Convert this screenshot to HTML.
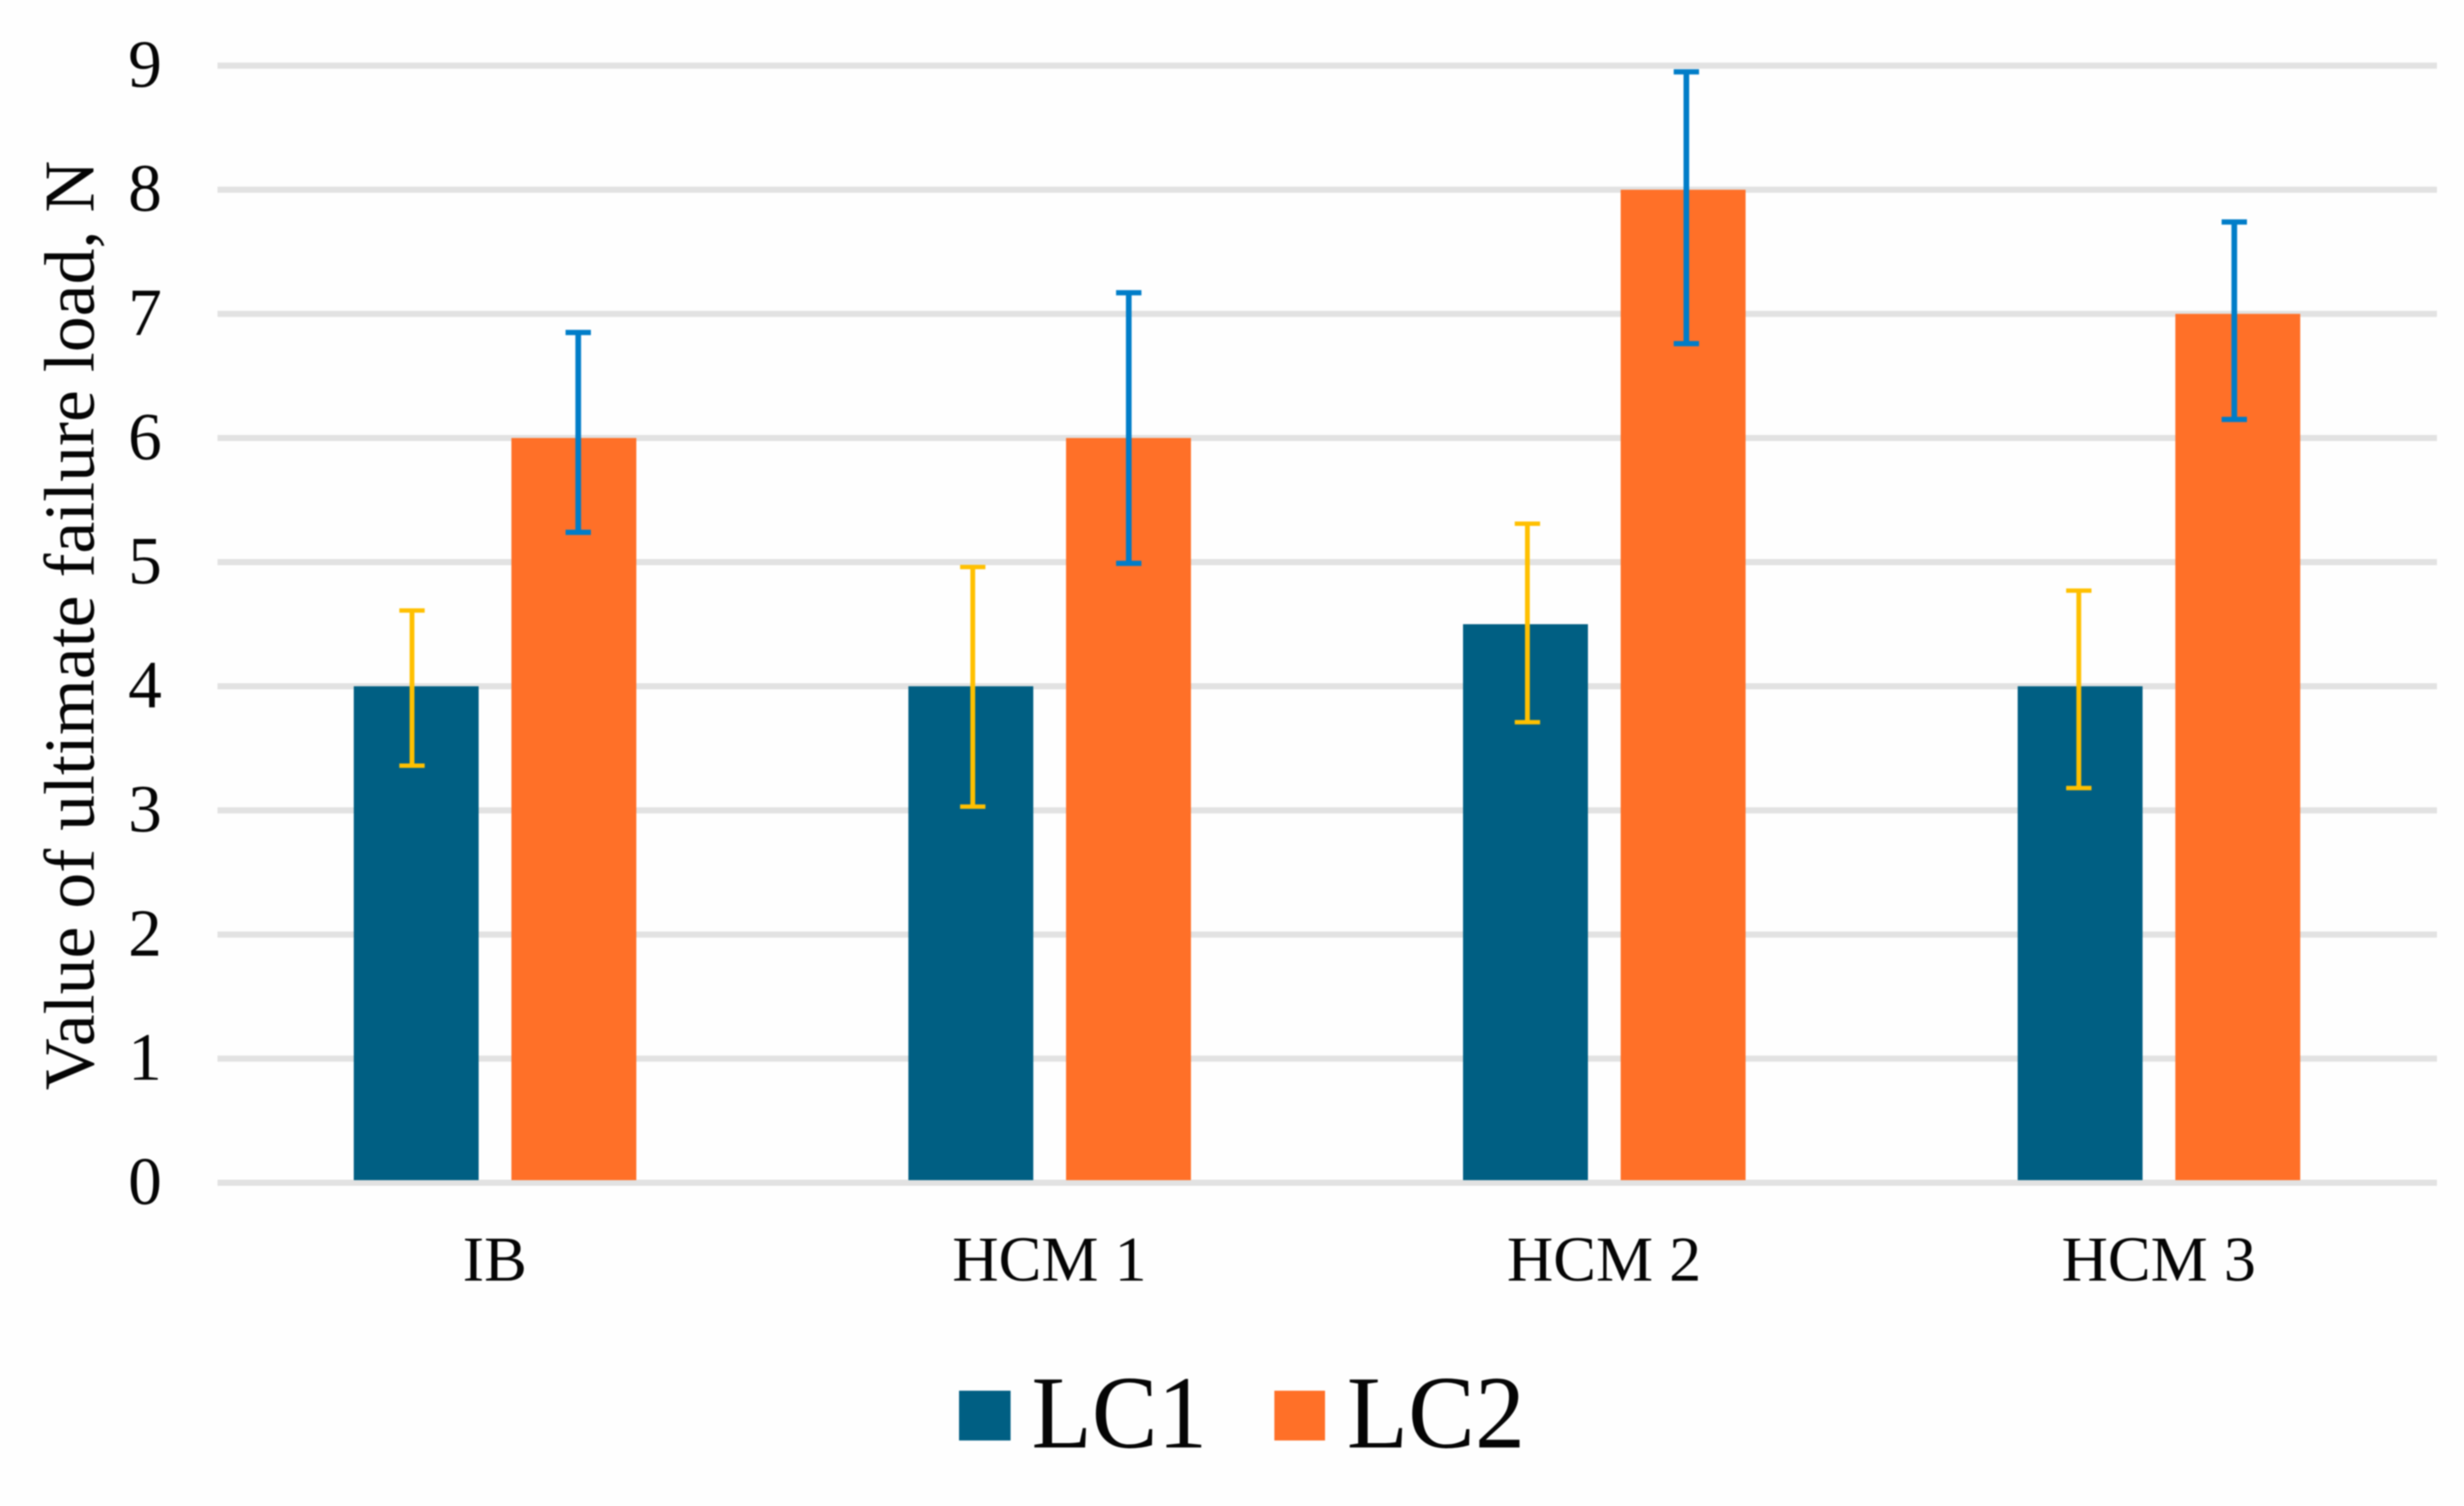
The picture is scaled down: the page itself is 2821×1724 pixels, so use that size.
<!DOCTYPE html>
<html lang="en">
<head>
<meta charset="utf-8">
<title>Value of ultimate failure load</title>
<style>
  html, body { margin: 0; padding: 0; background: #fefefe; width: 2821px; height: 1724px; overflow: hidden; }
  svg { display: block; filter: blur(0.9px); }
  text { font-family: "Liberation Serif", serif; fill: #050505; }
</style>
</head>
<body>
<svg id="chart" xmlns="http://www.w3.org/2000/svg" width="2821" height="1724" viewBox="0 0 2821 1724">
  <rect x="0" y="0" width="2821" height="1724" fill="#fefefe"></rect>
  <g id="grid"></g>
  <g id="yticks"></g>
  <g id="xticks"></g>
  <g id="bars"></g>
  <g id="errors"></g>
  <text transform="translate(107 1248) rotate(-90)" font-size="81.4" textLength="1064" lengthAdjust="spacingAndGlyphs">Value of ultimate failure load, N</text>
  <g>
    <g>
      <rect x="1098" y="1592" width="59" height="57" fill="#005f83"></rect>
      <text x="1181" y="1657" font-size="119" textLength="201" lengthAdjust="spacingAndGlyphs">LC1</text>
    </g>
    <g>
      <rect x="1459" y="1592" width="58" height="57" fill="#ff7028"></rect>
      <text x="1542" y="1657" font-size="119" textLength="204" lengthAdjust="spacingAndGlyphs">LC2</text>
    </g>
  </g>
</svg>
<script>
const categories = ["IB", "HCM 1", "HCM 2", "HCM 3"];
const yTickLabels = ["0", "1", "2", "3", "4", "5", "6", "7", "8", "9"];
const lc1Values = [4, 4, 4.5, 4];
const lc2Values = [6, 6, 8, 7];
const lc1ErrorHigh = [4.61, 4.96, 5.31, 4.77];
const lc1ErrorLow = [3.36, 3.03, 3.71, 3.18];
const lc2ErrorHigh = [6.85, 7.17, 8.95, 7.74];
const lc2ErrorLow = [5.24, 4.99, 6.76, 6.15];

const NS = "http://www.w3.org/2000/svg";
function node(tag, parentId) {
  const el = document.createElementNS(NS, tag);
  document.getElementById(parentId).appendChild(el);
  return el;
}
function yScale(v) {
  return 1354 - 142.1 * v;
}
function bandStart(i) {
  return 250 + 635 * i;
}
function barLeft(i, s) {
  return bandStart(i) + (s === 0 ? 155 : 335.5);
}
const BAR_W = 143;

yTickLabels.forEach(function (label) {
  const v = Number(label);
  const line = node("rect", "grid");
  
  
  line.setAttribute("x", 249);
  line.setAttribute("y", yScale(v) - 3.5);
  line.setAttribute("width", 2541);
  line.setAttribute("height", 7);
  line.setAttribute("fill", "#e2e2e2");

  const t = node("text", "yticks");
  
  
  t.setAttribute("x", 166);
  t.setAttribute("y", yScale(v) + 24);
  t.setAttribute("font-size", 77);
  t.setAttribute("text-anchor", "middle");
  t.textContent = label;
});

categories.forEach(function (name, i) {
  const t = node("text", "xticks");
  
  
  t.setAttribute("x", bandStart(i) + 316.5);
  t.setAttribute("y", 1466);
  t.setAttribute("font-size", 73.5);
  t.setAttribute("text-anchor", "middle");
  t.textContent = name;
});

function drawSeries(key, s, values, high, low, fill, stroke, thick, nudges) {
  values.forEach(function (v, i) {
    const top = yScale(v);
    const bar = node("rect", "bars");
    
    
    bar.setAttribute("x", barLeft(i, s));
    bar.setAttribute("y", top);
    bar.setAttribute("width", BAR_W);
    bar.setAttribute("height", yScale(0) - 3 - top);
    bar.setAttribute("fill", fill);

    const cx = barLeft(i, s) + BAR_W / 2 + nudges[i];
    const yHi = yScale(high[i]);
    const yLo = yScale(low[i]);

    const stem = node("line", "errors");
    
    
    stem.setAttribute("x1", cx);
    stem.setAttribute("x2", cx);
    stem.setAttribute("y1", yHi);
    stem.setAttribute("y2", yLo);
    stem.setAttribute("stroke", stroke);
    stem.setAttribute("stroke-width", thick);

    const capTop = node("line", "errors");
    
    
    capTop.setAttribute("x1", cx - 14.5);
    capTop.setAttribute("x2", cx + 14.5);
    capTop.setAttribute("y1", yHi);
    capTop.setAttribute("y2", yHi);
    capTop.setAttribute("stroke", stroke);
    capTop.setAttribute("stroke-width", thick - 0.5);

    const capLow = node("line", "errors");
    
    
    capLow.setAttribute("x1", cx - 14.5);
    capLow.setAttribute("x2", cx + 14.5);
    capLow.setAttribute("y1", yLo);
    capLow.setAttribute("y2", yLo);
    capLow.setAttribute("stroke", stroke);
    capLow.setAttribute("stroke-width", thick - 0.5);
  });
}

drawSeries("lc1", 0, lc1Values, lc1ErrorHigh, lc1ErrorLow, "#005f83", "#ffc000", 5.5, [-4.8, 2.2, 2.2, -1.5]);
drawSeries("lc2", 1, lc2Values, lc2ErrorHigh, lc2ErrorLow, "#ff7028", "#007dc8", 6.5, [5, 0.3, 3.7, -4]);
</script>
</body>
</html>
